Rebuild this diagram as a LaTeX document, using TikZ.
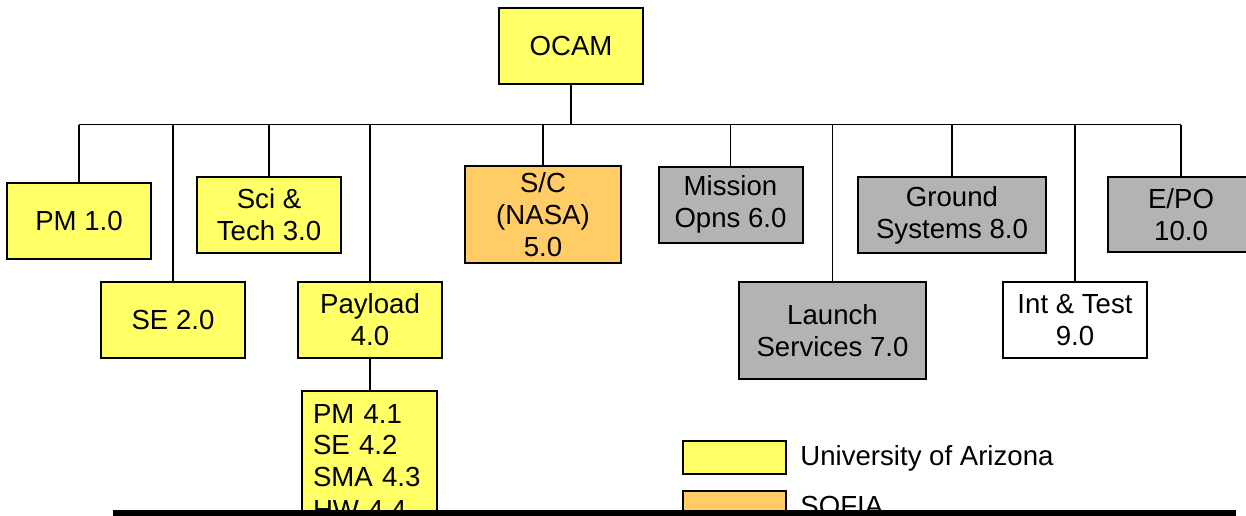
\documentclass[tikz,border=0pt]{standalone}
\usepackage{fontspec}
\setmainfont{Liberation Sans}
\definecolor{uayellow}{RGB}{255,255,102}
\definecolor{sofiaorange}{RGB}{255,204,102}
\definecolor{opsgrey}{RGB}{179,179,179}
\begin{document}
\begin{tikzpicture}[x=0.5pt,y=-0.5pt,
  wbs/.style={rectangle,draw=black,line width=1pt,align=center,inner sep=2pt,font=\fontsize{13.8}{16}\selectfont},
  uabox/.style={wbs,fill=uayellow},
  sofiabox/.style={wbs,fill=sofiaorange},
  greybox/.style={wbs,fill=opsgrey},
  whitebox/.style={wbs,fill=white},
  legtext/.style={anchor=base west,inner sep=0pt,font=\fontsize{13.8}{16}\selectfont},
  link/.style={line width=0.9pt}]
\useasboundingbox (0,0) rectangle (1246,515);
\clip (0,0) rectangle (1246,515);
\def\boxw{72pt};
\def\boxh{38pt};
\coordinate (bus) at (0,124.5);
\node[uabox,minimum width=\boxw,minimum height=\boxh] (ocam) at (571,45.5) {OCAM};
\node[uabox,minimum width=\boxw,minimum height=\boxh] (pm) at (79,221) {PM 1.0};
\node[uabox,minimum width=\boxw,minimum height=\boxh] (se) at (173,320) {SE 2.0};
\node[uabox,minimum width=\boxw,minimum height=\boxh] (sci) at (269,215) {Sci \&\\Tech 3.0};
\node[uabox,minimum width=\boxw,minimum height=\boxh] (payload) at (370,320) {Payload\\4.0};
\node[sofiabox,minimum width=78pt,minimum height=48.5pt] (sc) at (543,214.5) {S/C\\(NASA)\\5.0};
\node[greybox,minimum width=\boxw,minimum height=\boxh] (mission) at (730.5,204.5) {Mission\\Opns 6.0};
\node[greybox,minimum width=93.5pt,minimum height=48.5pt] (launch) at (832.5,330.5) {Launch\\Services 7.0};
\node[greybox,minimum width=94pt,minimum height=\boxh] (ground) at (952,215) {Ground\\Systems 8.0};
\node[whitebox,minimum width=\boxw,minimum height=\boxh] (inttest) at (1075,320) {Int \& Test\\9.0};
\node[greybox,minimum width=73pt,minimum height=37.5pt] (epo) at (1181,214.5) {E/PO\\10.0};
\node[uabox,anchor=north west,align=left,text width=56.5pt,inner xsep=5.5pt,inner ysep=6.5pt] (sub) at (301,390) {PM 4.1\\SE 4.2\\SMA 4.3\\HW 4.4};
\draw[link] (ocam.south) -- (ocam.south |- bus);
\draw[link] (bus -| pm.north) -- (bus -| epo.north);
\foreach \n in {pm,se,sci,payload,sc,mission,launch,ground,inttest,epo}
  \draw[link] (bus -| \n.north) -- (\n.north);
\draw[link] (payload.south) -- (sub.north -| payload.south);
\node[wbs,fill=uayellow,minimum width=51.5pt,minimum height=16.5pt] (leguoa) at (734.5,457.5) {};
\node[wbs,fill=sofiaorange,minimum width=51.5pt,minimum height=16.5pt] (legsofia) at (734.5,507.5) {};
\node[legtext] (leguoatext) at (800,465) {University of Arizona};
\node[legtext] (legsofiatext) at (800,515) {SOFIA};
\fill[black] (113,510) rectangle (1236,520);
\end{tikzpicture}
\end{document}
